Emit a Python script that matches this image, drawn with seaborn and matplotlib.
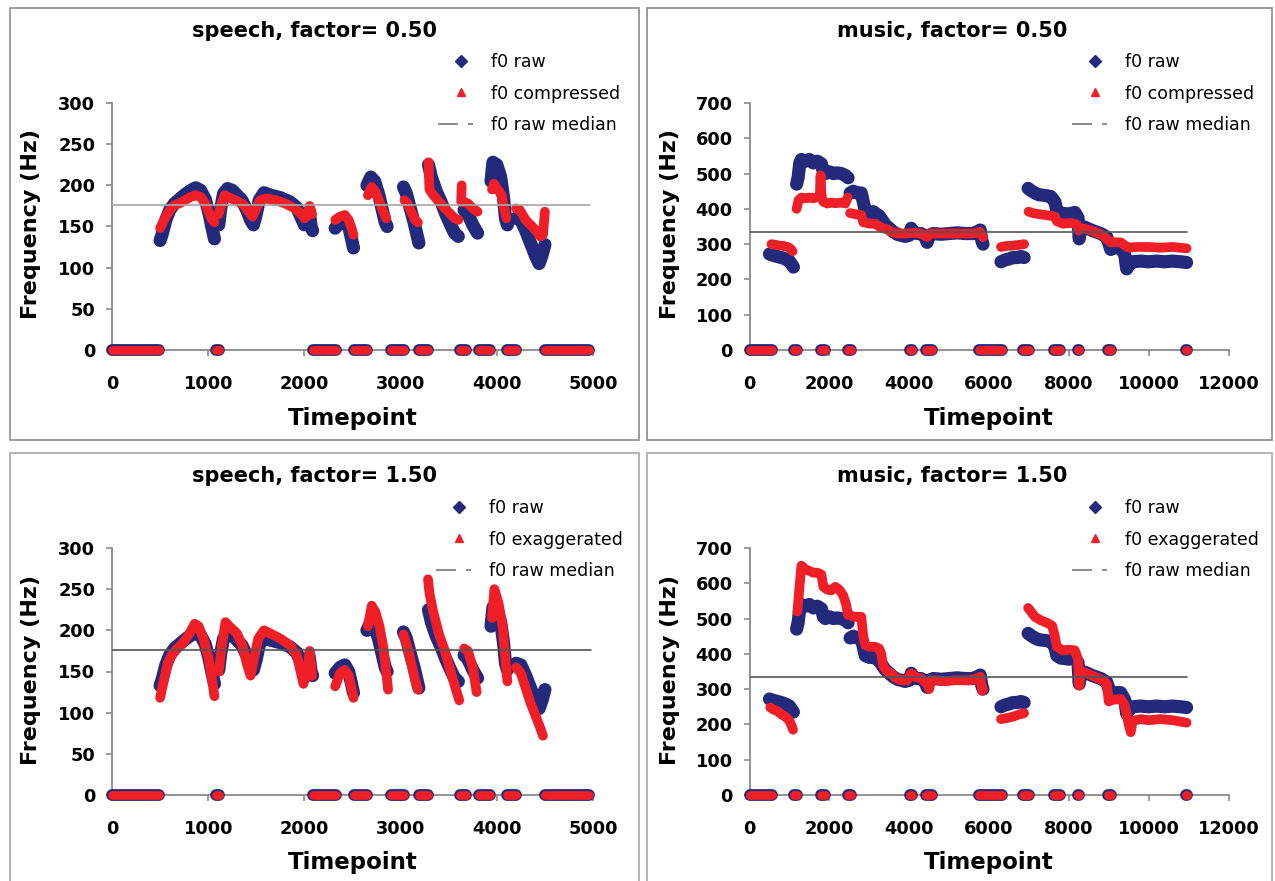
import matplotlib
matplotlib.use("Agg")
import matplotlib.pyplot as plt
from matplotlib.lines import Line2D
from matplotlib.patches import Rectangle
import pandas as pd
import seaborn as sns

# ---------------- data ----------------
SPEECH_MEDIAN = 176
MUSIC_MEDIAN = 333
SPEECH_XTICKS = [0, 1000, 2000, 3000, 4000, 5000]
MUSIC_XTICKS = [0, 2000, 4000, 6000, 8000, 10000, 12000]
SPEECH_YTICKS = [0, 50, 100, 150, 200, 250, 300]
MUSIC_YTICKS = [0, 100, 200, 300, 400, 500, 600, 700]

speech_raw = [
    [(500, 133), (520, 140), (560, 158), (600, 170), (650, 178), (700, 183), (760, 189),
     (820, 194), (870, 197), (920, 194), (970, 183), (1010, 165), (1040, 148), (1065, 135)],
    [(1110, 152), (1130, 172), (1160, 190), (1200, 196), (1250, 194), (1300, 188), (1350, 182),
     (1400, 170), (1440, 158), (1470, 152), (1500, 165), (1530, 182), (1580, 191), (1650, 188),
     (1750, 185), (1850, 180), (1920, 173), (1970, 160), (2000, 152), (2030, 156), (2050, 168),
     (2070, 150), (2085, 145)],
    [(2320, 148), (2370, 155), (2420, 158), (2460, 150), (2490, 135), (2510, 124)],
    [(2650, 200), (2690, 210), (2730, 205), (2770, 190), (2810, 170), (2840, 155), (2860, 150)],
    [(3030, 198), (3060, 190), (3100, 172), (3140, 155), (3170, 140), (3190, 130)],
    [(3290, 225), (3320, 210), (3370, 193), (3420, 180), (3470, 165), (3520, 152), (3560, 142), (3600, 138)],
    [(3660, 170), (3700, 165), (3750, 152), (3800, 142)],
    [(3940, 205), (3960, 228), (4000, 225), (4040, 210), (4070, 185), (4090, 160), (4110, 152)],
    [(4200, 160), (4250, 158), (4300, 145), (4350, 130), (4400, 115), (4440, 105), (4470, 115), (4500, 128)],
]

speech_compressed = [
    [(500, 148), (550, 160), (600, 170), (650, 176), (700, 178), (760, 182), (820, 186),
     (870, 188), (920, 186), (970, 178), (1010, 166), (1040, 158), (1065, 155)],
    [(1110, 165), (1140, 178), (1170, 188), (1220, 185), (1300, 181), (1370, 176), (1420, 168),
     (1460, 162), (1500, 172), (1540, 182), (1600, 184), (1700, 182), (1800, 178), (1900, 172),
     (1960, 166), (2000, 160), (2030, 163), (2055, 175), (2080, 165)],
    [(2320, 158), (2370, 162), (2420, 164), (2460, 158), (2490, 148), (2510, 140)],
    [(2660, 188), (2700, 198), (2740, 192), (2780, 180), (2820, 168), (2850, 160)],
    [(3040, 182), (3070, 178), (3110, 168), (3150, 158), (3180, 155)],
    [(3290, 228), (3300, 195), (3340, 188), (3400, 180), (3460, 172), (3520, 165), (3560, 160), (3600, 158)],
    [(3630, 180), (3635, 200)],
    [(3660, 180), (3700, 178), (3750, 172), (3800, 168)],
    [(3950, 195), (3970, 202), (4010, 195), (4050, 188), (4080, 170), (4100, 160)],
    [(4200, 172), (4240, 170), (4300, 158), (4350, 152), (4400, 146), (4450, 138), (4480, 140), (4500, 168)],
]

speech_exaggerated = [
    [(500, 118), (540, 140), (580, 160), (620, 170), (680, 178), (740, 185), (800, 195),
     (860, 208), (900, 205), (950, 190), (1000, 168), (1040, 140), (1065, 120)],
    [(1110, 150), (1140, 180), (1180, 210), (1220, 205), (1300, 196), (1360, 180), (1400, 160),
     (1440, 145), (1480, 168), (1520, 190), (1580, 200), (1650, 196), (1750, 190), (1850, 182),
     (1920, 170), (1960, 150), (1990, 135), (2030, 150), (2055, 175), (2080, 145)],
    [(2320, 132), (2370, 148), (2420, 152), (2460, 145), (2490, 130), (2510, 118)],
    [(2660, 205), (2700, 230), (2740, 222), (2780, 205), (2820, 180), (2850, 150), (2870, 128)],
    [(3030, 195), (3070, 180), (3110, 160), (3150, 140), (3180, 128)],
    [(3285, 262), (3300, 245), (3340, 222), (3400, 195), (3460, 175), (3520, 150), (3570, 130), (3610, 115)],
    [(3660, 178), (3700, 175), (3750, 155), (3790, 125)],
    [(3950, 215), (3975, 250), (4020, 232), (4060, 205), (4085, 170), (4110, 138)],
    [(4200, 155), (4250, 148), (4300, 130), (4350, 112), (4400, 97), (4450, 82), (4480, 72)],
]

speech_unvoiced = [(0, 490), (1080, 1110), (2085, 2330), (2520, 2650), (2900, 3040), (3190, 3290),
                   (3620, 3680), (3810, 3930), (4110, 4200), (4500, 4960)]

music_raw = [
    [(500, 272), (600, 268), (700, 265), (800, 262), (900, 258), (1000, 252), (1060, 242), (1100, 235)],
    [(1180, 470), (1220, 490), (1260, 530), (1300, 540), (1400, 535), (1500, 540), (1600, 530),
     (1700, 535), (1800, 528), (1850, 505), (1900, 500), (2000, 505), (2100, 500), (2200, 502),
     (2300, 500), (2400, 495), (2470, 488)],
    [(2520, 445), (2600, 450), (2700, 445), (2800, 445), (2850, 420), (2900, 395), (3000, 390),
     (3100, 392), (3250, 380), (3300, 372), (3400, 355), (3500, 345), (3600, 335), (3700, 328),
     (3800, 325), (3900, 322), (4000, 325), (4050, 345), (4100, 335), (4200, 330), (4300, 330),
     (4400, 320), (4450, 305), (4500, 325), (4600, 330), (4800, 328), (5000, 330), (5200, 332),
     (5400, 330), (5600, 330), (5700, 335), (5780, 340), (5820, 310), (5850, 300)],
    [(6300, 250), (6400, 255), (6500, 258), (6600, 262), (6700, 262), (6800, 265), (6880, 262)],
    [(6980, 458), (7050, 452), (7150, 445), (7250, 440), (7400, 438), (7550, 435), (7650, 420),
     (7700, 395), (7800, 388), (8000, 385), (8150, 390), (8230, 375), (8260, 315), (8300, 345),
     (8400, 348), (8600, 338), (8800, 330), (8950, 320), (9050, 285), (9150, 290), (9300, 290),
     (9400, 270), (9450, 230), (9500, 240), (9600, 250), (9800, 252), (10000, 250), (10200, 252),
     (10400, 250), (10600, 252), (10800, 250), (10950, 248)],
]

music_compressed = [
    [(550, 300), (650, 298), (750, 296), (850, 295), (950, 292), (1020, 288), (1080, 280)],
    [(1180, 400), (1230, 425), (1300, 432), (1400, 430), (1500, 432), (1600, 430), (1700, 434),
     (1760, 432), (1780, 495), (1800, 440), (1850, 420), (1950, 415), (2050, 418), (2150, 416),
     (2300, 418), (2400, 415), (2460, 432)],
    [(2520, 388), (2650, 385), (2800, 382), (2850, 362), (3000, 358), (3150, 358), (3250, 350),
     (3350, 345), (3450, 342), (3550, 335), (3700, 330), (3900, 330), (4100, 332), (4300, 330),
     (4450, 320), (4500, 330), (4700, 330), (5000, 330), (5300, 330), (5600, 330), (5780, 335),
     (5850, 320)],
    [(6300, 292), (6450, 295), (6600, 296), (6750, 298), (6880, 300)],
    [(6990, 392), (7100, 388), (7250, 385), (7450, 382), (7650, 378), (7700, 365), (7850, 358),
     (8050, 360), (8200, 356), (8250, 338), (8300, 345), (8450, 342), (8650, 335), (8850, 325),
     (9000, 310), (9050, 305), (9300, 305), (9420, 295), (9500, 290), (9700, 292), (10000, 292),
     (10300, 290), (10600, 292), (10950, 288)],
]

music_exaggerated = [
    [(520, 248), (600, 242), (700, 238), (800, 228), (900, 222), (1000, 210), (1060, 195), (1090, 185)],
    [(1200, 520), (1260, 600), (1300, 650), (1400, 640), (1500, 635), (1600, 630), (1700, 630),
     (1800, 625), (1850, 590), (1950, 582), (2050, 580), (2150, 590), (2250, 582), (2350, 565),
     (2420, 540), (2470, 510)],
    [(2520, 510), (2600, 505), (2700, 505), (2800, 505), (2850, 450), (2900, 425), (3000, 420),
     (3150, 420), (3250, 415), (3300, 400), (3350, 365), (3450, 350), (3550, 345), (3650, 332),
     (3800, 325), (3950, 325), (4050, 345), (4150, 335), (4300, 330), (4450, 315), (4500, 300),
     (4550, 325), (4700, 325), (4900, 322), (5100, 325), (5300, 325), (5500, 325), (5700, 330),
     (5780, 335), (5830, 295), (5850, 300)],
    [(6300, 215), (6450, 218), (6600, 222), (6750, 228), (6880, 232)],
    [(6980, 530), (7050, 520), (7150, 505), (7300, 495), (7450, 488), (7580, 480), (7640, 455),
     (7700, 420), (7850, 410), (8000, 412), (8150, 410), (8230, 385), (8260, 310), (8300, 350),
     (8450, 345), (8650, 335), (8850, 325), (8950, 315), (9000, 265), (9100, 270), (9300, 272),
     (9400, 255), (9500, 200), (9550, 178), (9600, 210), (9800, 215), (10000, 212), (10300, 215),
     (10600, 212), (10950, 205)],
]

music_unvoiced = [(0, 560), (1110, 1200), (1800, 1890), (2460, 2550), (4020, 4080), (4420, 4560),
                  (5760, 6320), (6860, 7000), (7640, 7770), (8225, 8245), (8990, 9060), (10930, 10970)]

# ---------------- styling ----------------
BLUE = "#232a7c"
RED = "#ef1f28"
AXGRAY = "#8a8a8a"
W, H = 1275, 881

sns.set_theme(style="white")
plt.rcParams["font.family"] = ["DejaVu Sans"]
plt.rcParams["text.color"] = "black"
plt.rcParams["xtick.color"] = "black"
plt.rcParams["ytick.color"] = "black"

fig = plt.figure(figsize=(W / 100, H / 100), dpi=100)


def seg_frame(segs):
    rows = []
    for i, seg in enumerate(segs):
        for t, f in seg:
            rows.append({"seg": i, "t": t, "f": f})
    return pd.DataFrame(rows)


def run_frame(runs):
    rows = []
    for i, (a, b) in enumerate(runs):
        rows.append({"seg": i, "t": a, "f": 0})
        rows.append({"seg": i, "t": b, "f": 0})
    return pd.DataFrame(rows)


def box(l, t, r, b, color):
    fig.patches.append(Rectangle((l / W, 1 - b / H), (r - l) / W, (b - t) / H,
                                 transform=fig.transFigure, fill=False,
                                 edgecolor=color, linewidth=1.2))


def panel(rect, raw, mod, runs, median, med_end, xmax, xticks, ymax, yticks,
          title, mod_label, med_color, title_xy, ylab_xy, xlab_xy, leg_xy):
    l, t, r, b = rect
    ax = fig.add_axes([l / W, 1 - b / H, (r - l) / W, (b - t) / H])
    ax.set_facecolor("none")
    common = dict(ax=ax, x="t", y="f", units="seg", estimator=None, sort=False,
                  legend=False, solid_capstyle="round", solid_joinstyle="round", clip_on=False)
    zr = run_frame(runs)
    sns.lineplot(data=zr, color=BLUE, linewidth=8.5, zorder=3, **common)
    sns.lineplot(data=zr, color=RED, linewidth=6.3, zorder=4, **common)
    sns.lineplot(data=seg_frame(raw), color=BLUE, linewidth=9.5, zorder=3, **common)
    sns.lineplot(data=seg_frame(mod), color=RED, linewidth=7.0, zorder=4, **common)
    sns.lineplot(x=[0, med_end], y=[median, median], ax=ax, color=med_color,
                 linewidth=1.2, zorder=5)
    ax.set_xlim(0, xmax)
    ax.set_ylim(0, ymax)
    ax.set_xticks(xticks)
    ax.set_yticks(yticks)
    ax.set_xticklabels([str(v) for v in xticks], fontsize=12.8, fontweight="bold", color="black")
    ax.set_yticklabels([str(v) for v in yticks], fontsize=12.8, fontweight="bold", color="black")
    ax.set_xlabel("")
    ax.set_ylabel("")
    for s in ["top", "right"]:
        ax.spines[s].set_visible(False)
    for s in ["left", "bottom"]:
        ax.spines[s].set_color(AXGRAY)
        ax.spines[s].set_linewidth(1.3)
        ax.spines[s].set_zorder(1)
    ax.tick_params(axis="both", which="both", direction="out", length=4, width=1.2,
                   color=AXGRAY, labelcolor="black", bottom=True, left=True)
    ax.tick_params(axis="x", pad=14)
    ax.tick_params(axis="y", pad=8)

    fig.text(title_xy[0] / W, 1 - title_xy[1] / H, title, ha="center", va="center",
             fontsize=15, fontweight="bold", color="black")
    fig.text(ylab_xy[0] / W, 1 - ylab_xy[1] / H, "Frequency (Hz)", ha="center", va="center",
             rotation=90, fontsize=16, fontweight="bold", color="black")
    fig.text(xlab_xy[0] / W, 1 - xlab_xy[1] / H, "Timepoint", ha="center", va="center",
             fontsize=16.5, fontweight="bold", color="black")

    handles = [
        Line2D([], [], linestyle="none", marker="D", markersize=6.5, color=BLUE),
        Line2D([], [], linestyle="none", marker="^", markersize=6, color=RED),
        Line2D([], [], color="#777777", linewidth=1.2, dashes=(12, 6, 3, 30)),
    ]
    leg = ax.legend(handles, ["f0 raw", mod_label, "f0 raw median"], loc="upper left",
                    bbox_to_anchor=(leg_xy[0] / W, 1 - leg_xy[1] / H),
                    bbox_transform=fig.transFigure,
                    frameon=False, fontsize=12.5, borderpad=0, borderaxespad=0,
                    handlelength=2.6, handletextpad=0.45, labelspacing=0.78)
    for txt in leg.get_texts():
        txt.set_color("black")
    return ax


box(10, 8, 639, 440, "#8c8c8c")
box(647, 8, 1272, 440, "#8c8c8c")
box(10, 453, 639, 895, "#a8a8a8")
box(647, 453, 1272, 895, "#a8a8a8")

panel((112, 103, 593, 350), speech_raw, speech_compressed, speech_unvoiced, SPEECH_MEDIAN, 4970,
      5000, SPEECH_XTICKS, 300, SPEECH_YTICKS, "speech, factor= 0.50", "f0 compressed",
      "#a6a6a6", (315, 31), (31, 224), (353, 418), (438, 53))
panel((749.5, 103, 1228.5, 350), music_raw, music_compressed, music_unvoiced, MUSIC_MEDIAN, 10960,
      12000, MUSIC_XTICKS, 700, MUSIC_YTICKS, "music, factor= 0.50", "f0 compressed",
      "#555555", (952, 31), (670, 224), (989, 418), (1072, 53))
panel((112, 548, 593, 795), speech_raw, speech_exaggerated, speech_unvoiced, SPEECH_MEDIAN, 4980,
      5000, SPEECH_XTICKS, 300, SPEECH_YTICKS, "speech, factor= 1.50", "f0 exaggerated",
      "#555555", (315, 476), (31, 670), (353, 863), (436, 499))
panel((749.5, 548, 1228.5, 795), music_raw, music_exaggerated, music_unvoiced, MUSIC_MEDIAN, 10960,
      12000, MUSIC_XTICKS, 700, MUSIC_YTICKS, "music, factor= 1.50", "f0 exaggerated",
      "#555555", (952, 476), (670, 670), (989, 863), (1072, 499))

fig.savefig("out.png", dpi=100)
